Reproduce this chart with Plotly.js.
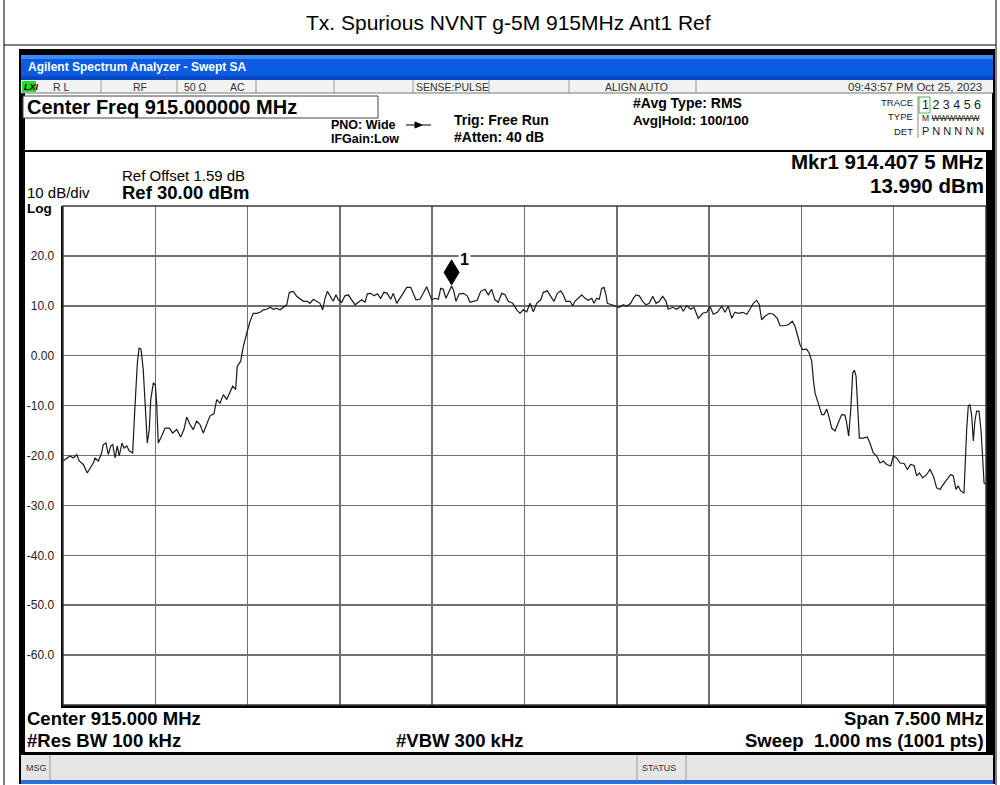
<!DOCTYPE html>
<html>
<head>
<meta charset="utf-8">
<script src="https://cdn.plot.ly/plotly-3.0.1.min.js"></script>
<style>html,body{margin:0;padding:0;background:#fff;}#chart{width:1000px;height:785px;}</style>
</head>
<body>
<div id="chart"></div>
<script>
// ---------------- DATA ----------------
const freqMHz = [
911.250,911.280,911.307,911.334,911.361,911.382,911.415,911.447,911.469,911.496,
911.510,911.537,911.564,911.577,911.599,911.618,911.638,911.654,911.673,911.691,
911.707,911.729,911.746,911.768,911.789,911.816,911.835,911.854,911.868,911.884,
911.902,911.919,911.935,911.951,911.963,911.984,912.000,912.011,912.024,912.052,
912.079,912.114,912.141,912.174,912.206,912.233,912.255,912.282,912.309,912.336,
912.363,912.390,912.418,912.444,912.477,912.499,912.526,912.553,912.580,912.607,
912.629,912.653,912.666,912.694,912.715,912.743,912.770,912.796,912.824,912.851,
912.878,912.905,912.932,912.959,912.986,913.013,913.040,913.068,913.089,913.121,
913.149,913.181,913.203,913.235,913.257,913.284,913.311,913.338,913.360,913.379,
913.398,913.420,913.446,913.468,913.487,913.515,913.541,913.568,913.596,913.623,
913.650,913.677,913.704,913.723,913.750,913.777,913.804,913.832,913.858,913.885,
913.913,913.934,913.962,913.988,914.015,914.043,914.075,914.096,914.118,914.151,
914.178,914.205,914.226,914.246,914.273,914.300,914.319,914.340,914.362,914.4075,
914.425,914.443,914.470,914.503,914.535,914.557,914.584,914.616,914.644,914.679,
914.706,914.733,914.760,914.787,914.815,914.842,914.868,914.904,914.937,914.963,
914.990,915.018,915.045,915.072,915.099,915.132,915.153,915.185,915.213,915.240,
915.267,915.294,915.315,915.337,915.370,915.392,915.410,915.437,915.465,915.492,
915.518,915.546,915.565,915.587,915.608,915.627,915.646,915.662,915.673,915.709,
915.743,915.770,915.803,915.830,915.863,915.884,915.906,915.933,915.960,915.987,
916.014,916.042,916.069,916.095,916.123,916.150,916.168,916.204,916.237,916.269,
916.290,916.318,916.351,916.377,916.412,916.448,916.481,916.507,916.534,916.567,
916.602,916.629,916.656,916.684,916.710,916.737,916.773,916.806,916.832,916.859,
916.887,916.908,916.927,916.954,916.989,917.022,917.054,917.076,917.109,917.144,
917.176,917.198,917.217,917.239,917.261,917.293,917.314,917.334,917.347,917.361,
917.387,917.415,917.434,917.456,917.477,917.496,917.523,917.550,917.577,917.604,
917.618,917.634,917.651,917.667,917.680,917.694,917.712,917.721,917.753,917.785,
917.807,917.834,917.862,917.889,917.915,917.943,917.976,917.997,918.024,918.051,
918.084,918.111,918.138,918.165,918.187,918.208,918.236,918.268,918.295,918.322,
918.349,918.376,918.403,918.431,918.463,918.484,918.506,918.525,918.544,918.571,
918.582,918.593,918.606,918.620,918.634,918.647,918.661,918.674,918.693,918.709,
918.720,918.734,918.750
];
const levelDbm = [
-21.1,-20.5,-20.1,-20.5,-19.8,-21.1,-21.8,-23.5,-22.5,-21.5,
-20.5,-21.1,-19.5,-17.8,-17.5,-19.8,-18.1,-17.8,-20.5,-18.1,
-20.1,-17.5,-18.5,-18.1,-19.1,-19.5,-10.1,-1.5,1.5,1.3,
-2.8,-11.5,-17.5,-14.8,-8.8,-5.5,-5.8,-9.5,-17.5,-16.1,
-14.5,-14.5,-15.5,-14.8,-16.3,-14.8,-12.3,-13.8,-14.8,-13.1,
-13.8,-15.5,-13.8,-12.1,-11.6,-8.8,-9.5,-7.8,-8.8,-7.1,
-6.1,-6.8,-2.1,-1.1,1.8,4.5,6.9,8.5,8.5,8.7,
9.2,9.3,9.7,9.3,9.5,9.2,9.7,10.2,12.7,12.9,
11.9,11.2,10.9,10.9,10.5,11.3,10.9,10.5,9.2,11.5,
12.9,11.9,10.9,12.2,11.2,10.7,12.0,12.2,11.2,10.2,
10.7,11.2,10.7,12.4,12.5,12.0,12.4,11.5,12.7,12.5,
11.3,12.5,10.5,11.5,12.5,13.7,13.7,12.5,11.2,11.3,
12.5,13.8,12.5,11.2,11.5,11.3,13.5,13.3,11.5,13.99,
13.0,10.9,12.4,12.5,12.0,10.7,10.9,11.1,12.9,13.3,
12.2,13.3,11.2,10.7,12.5,12.2,10.9,10.5,9.2,8.5,
9.2,8.8,10.5,8.8,10.5,11.2,12.7,13.0,11.9,10.9,
12.5,13.0,12.2,10.9,10.9,10.0,10.9,11.5,12.2,11.5,
11.1,11.5,10.5,11.5,11.3,13.5,13.7,12.2,10.5,10.2,
10.0,9.7,10.2,9.9,10.5,11.5,12.2,12.0,10.9,10.2,
10.5,11.9,10.5,10.9,11.9,10.9,9.3,9.7,9.3,9.9,
8.9,10.0,9.3,9.7,7.5,8.5,8.7,9.9,8.3,8.7,
9.9,8.7,9.9,7.5,8.7,8.5,8.7,8.3,9.3,10.5,
11.1,10.2,7.2,7.9,8.5,8.3,7.5,6.0,6.0,6.2,
6.9,5.9,4.2,2.2,1.2,1.3,0.5,-1.1,-4.8,-7.5,
-9.5,-11.8,-11.8,-10.7,-12.5,-14.5,-15.1,-13.5,-11.8,-11.9,
-13.5,-16.1,-10.8,-3.5,-2.9,-4.1,-11.5,-16.5,-16.5,-16.3,
-17.5,-19.5,-20.1,-21.5,-21.1,-21.8,-22.1,-20.1,-20.5,-21.5,
-21.6,-22.8,-21.8,-22.0,-24.1,-23.5,-24.5,-23.8,-22.8,-24.1,
-26.5,-26.8,-25.8,-24.8,-23.8,-24.1,-26.8,-26.1,-27.1,-27.5,
-20.8,-14.8,-10.1,-9.8,-12.1,-17.1,-12.8,-11.1,-11.1,-14.8,
-19.3,-25.5,-25.8
];
const markerFreq = [914.4075];
const markerLevel = [13.99];
const markerNames = ["1"];

const xStart = 911.25, xStop = 918.75;        // Center 915 MHz, Span 7.5 MHz
const yTop = 30, yBottom = -70;               // Ref 30 dBm, 10 dB/div
const xGridVals = [912.0, 912.75, 913.5, 914.25, 915.0, 915.75, 916.5, 917.25, 918.0];
const yTickVals = [20, 10, 0, -10, -20, -30, -40, -50, -60];
const yTickText = ["20.0", "10.0", "0.00", "-10.0", "-20.0", "-30.0", "-40.0", "-50.0", "-60.0"];

const pageTitle = "Tx. Spurious NVNT g-5M 915MHz Ant1 Ref";
const windowTitle = "Agilent Spectrum Analyzer - Swept SA";
const statusCells = ["R L", "RF", "50 Ω", "AC", "SENSE:PULSE", "ALIGN AUTO"];
const timeStamp = "09:43:57 PM Oct 25, 2023";
const mkrReadout = ["Mkr1 914.407 5 MHz", "13.990 dBm"];

// ---------------- LAYOUT HELPERS (pixel -> paper) ----------------
const L = 63, R = 986, T = 206, B = 705;
const FONT = "Liberation Sans, Arial, sans-serif";
function px(x) { return (x - L) / (R - L); }
function py(y) { return (B - y) / (B - T); }
const shapes = [], annotations = [];
function rect(x0, y0, x1, y1, fill, line, lw) {
  shapes.push({type: 'rect', xref: 'paper', yref: 'paper', layer: 'below',
    x0: px(x0), x1: px(x1), y0: py(y1), y1: py(y0),
    fillcolor: fill || 'rgba(0,0,0,0)', line: {color: line || 'rgba(0,0,0,0)', width: lw || 0}});
}
function seg(x0, y0, x1, y1, color, w) {
  shapes.push({type: 'line', xref: 'paper', yref: 'paper', layer: 'below',
    x0: px(x0), x1: px(x1), y0: py(y0), y1: py(y1), line: {color: color, width: w}});
}
function txt(s, x, y, size, opts) {
  opts = opts || {};
  annotations.push({xref: 'paper', yref: 'paper', x: px(x), y: py(y), text: s, showarrow: false,
    xanchor: opts.anchor || 'left', yanchor: 'middle', borderpad: 0,
    font: {family: opts.family || FONT, size: size, color: opts.color || '#000', weight: opts.bold ? 'bold' : 'normal'}});
}

// Outer report table
seg(4, 0, 4, 785, '#000', 1);
seg(996, 0, 996, 785, '#000', 1);
seg(4, 45, 996, 45, '#000', 1);
txt(pageTitle, 508, 23, 21, {anchor: 'center'});

// Instrument screen frame
rect(19, 49, 995, 784, '#000');
rect(21, 55, 993, 80, '#0b5ce3');
rect(21, 55, 993, 59, '#3d8af5');
rect(21, 76, 993, 80, '#0846c4');
txt(windowTitle, 27, 67, 12, {color: '#fff', bold: true});
// status row
rect(21, 80, 993, 93, '#f2f2f2');
rect(22, 81, 36, 92, '#22dd22');
txt('<i>LXI</i>', 23, 86.5, 9, {bold: true});
[101, 177, 256, 334, 413, 489, 569, 696].forEach(function (x) { seg(x, 80, x, 93, '#9a9a9a', 1); });
txt(statusCells[0], 52, 87, 10.5, {color: '#333'});
txt(statusCells[1], 140, 87, 10.5, {color: '#333', anchor: 'center'});
txt(statusCells[2], 195, 87, 10.5, {color: '#333', anchor: 'center'});
txt(statusCells[3], 237, 87, 10.5, {color: '#333', anchor: 'center'});
txt(statusCells[4], 452, 87, 10.5, {color: '#333', anchor: 'center'});
txt(statusCells[5], 636, 87, 10.5, {color: '#333', anchor: 'center'});
txt(timeStamp, 983, 87, 11.5, {color: '#333', anchor: 'right'});
// header
rect(25, 93, 992, 150, '#fff');
seg(21, 93, 993, 93, '#777', 1);
rect(23, 96, 378, 118, '#fff', '#444', 1);
txt('Center Freq 915.000000 MHz', 26, 107, 20, {bold: true});
txt('PNO: Wide', 330, 125, 12.5, {bold: true});
txt('IFGain:Low', 330, 139, 12.5, {bold: true});
seg(406, 125, 431, 125, '#000', 1);
shapes.push({type: 'path', xref: 'paper', yref: 'paper', layer: 'below',
  path: 'M ' + px(415) + ',' + py(122) + ' L ' + px(422) + ',' + py(125) + ' L ' + px(415) + ',' + py(128) + ' Z',
  fillcolor: '#000', line: {color: '#000', width: 1}});
txt('Trig: Free Run', 453, 120, 14, {bold: true});
txt('#Atten: 40 dB', 453, 137, 14, {bold: true});
txt('#Avg Type: RMS', 632, 103, 14, {bold: true});
txt('Avg|Hold: 100/100', 632, 120, 13.5, {bold: true});
txt('TRACE', 914, 103, 9.5, {anchor: 'right', color: '#222'});
txt('TYPE', 914, 117, 9.5, {anchor: 'right', color: '#222'});
txt('DET', 914, 131, 9.5, {anchor: 'right', color: '#222'});
seg(918, 96, 918, 138, '#888', 1);
rect(919, 97, 930, 113, '#fff', '#4fb34f', 1);
txt('1 2 3 4 5 6', 921, 105, 12.5, {color: '#222'});
txt('M <s>WWWWWW</s>', 921, 118, 8.5, {color: '#222'});
txt('P N N N N N', 921, 131, 11, {color: '#222'});
// main panel
seg(21, 151, 993, 151, '#000', 2);
rect(25, 152, 986, 752, '#fff');
txt('Ref Offset 1.59 dB', 121, 175, 15);
txt('Ref 30.00 dBm', 121, 192, 18.5, {bold: true});
txt('10 dB/div', 26, 192, 15);
txt('Log', 26, 208, 13.5, {bold: true});
txt(mkrReadout[0], 985, 162, 20.5, {anchor: 'right', bold: true});
txt(mkrReadout[1], 985, 186, 20.5, {anchor: 'right', bold: true});
txt('Center 915.000 MHz', 26, 718, 18.5, {bold: true});
txt('Span 7.500 MHz', 985, 718, 18.5, {bold: true, anchor: 'right'});
txt('#Res BW 100 kHz', 26, 740, 18.5, {bold: true});
txt('#VBW 300 kHz', 395, 740, 18.5, {bold: true});
txt('Sweep&#160; 1.000 ms (1001 pts)', 985, 740, 18.5, {bold: true, anchor: 'right'});
// MSG row
rect(21, 755, 993, 780, '#e6e6e6');
rect(21, 780, 993, 784, '#2f6fdc');
seg(50, 755, 50, 780, '#999', 1);
seg(637, 755, 637, 780, '#999', 1);
seg(686, 755, 686, 780, '#999', 1);
txt('MSG', 25, 768, 9, {color: '#333'});
txt('STATUS', 641, 768, 9, {color: '#333'});

// plot frame (top / right)
shapes.push({type: 'rect', xref: 'paper', yref: 'paper', layer: 'above', x0: 0, x1: 1, y0: 0, y1: 1,
  line: {color: '#3a3a3a', width: 1.5}});
// marker diamond sitting on the marked point
shapes.push({type: 'path', xref: 'x', yref: 'y', xsizemode: 'pixel', ysizemode: 'pixel',
  xanchor: markerFreq[0], yanchor: markerLevel[0], layer: 'above',
  path: 'M 0 1 L 7.5 13.5 L 0 26 L -7.5 13.5 Z', fillcolor: '#000', line: {color: '#000', width: 1}});
annotations.push({xref: 'x', yref: 'y', x: markerFreq[0], y: markerLevel[0], text: markerNames[0],
  showarrow: false, xshift: 13, yshift: 26, xanchor: 'center', yanchor: 'middle',
  font: {family: FONT, size: 16, color: '#000', weight: 'bold'}, bgcolor: '#fff'});

const trace = {
  type: 'scatter', mode: 'lines', x: freqMHz, y: levelDbm,
  line: {color: '#1a1a1a', width: 1.2}, hoverinfo: 'x+y', showlegend: false
};

const layout = {
  width: 1000, height: 785,
  margin: {l: L, r: 1000 - R, t: T, b: 785 - B},
  paper_bgcolor: '#fff', plot_bgcolor: '#fff',
  showlegend: false,
  xaxis: {range: [xStart, xStop], tickvals: xGridVals, showticklabels: false, ticks: '',
    showgrid: true, gridcolor: '#6f6f6f', gridwidth: 1.5, zeroline: false,
    showline: true, linecolor: '#000', linewidth: 2.5, fixedrange: true},
  yaxis: {range: [yBottom, yTop], tickvals: yTickVals, ticktext: yTickText,
    ticks: 'outside', ticklen: 4, tickcolor: 'rgba(0,0,0,0)',
    tickfont: {family: FONT, size: 12, color: '#222'},
    showgrid: true, gridcolor: '#6f6f6f', gridwidth: 1.5, zeroline: false,
    showline: true, linecolor: '#000', linewidth: 2.5, fixedrange: true},
  shapes: shapes,
  annotations: annotations
};

Plotly.newPlot('chart', [trace], layout, {displayModeBar: false, staticPlot: true});
</script>
</body>
</html>
